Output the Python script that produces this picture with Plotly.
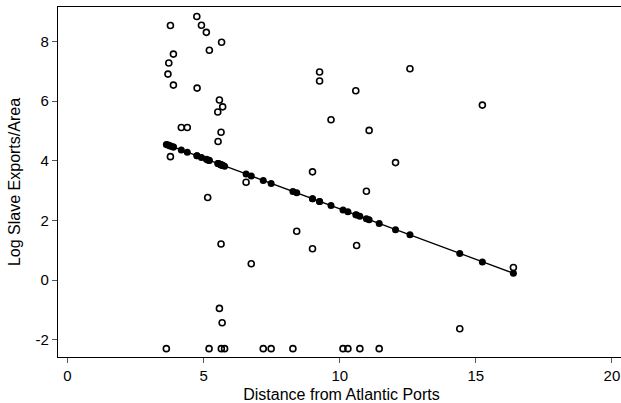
import plotly.graph_objects as go

# Observations (distance, log slave exports / area)
distance = [3.63, 3.69, 3.72, 3.78, 3.78, 3.89, 3.89, 4.18, 4.40, 4.75,
            4.76, 4.92, 5.10, 5.15, 5.20, 5.21, 5.52, 5.53, 5.58, 5.58,
            5.64, 5.64, 5.65, 5.66, 5.68, 5.70, 5.77, 6.56, 6.75, 7.19,
            7.48, 8.28, 8.42, 9.00, 9.00, 9.26, 9.26, 9.68, 10.12, 10.30,
            10.59, 10.62, 10.74, 10.98, 11.08, 11.45, 12.05, 12.58, 14.41, 15.24,
            16.38]
log_exports = [-2.3, 6.91, 7.28, 8.54, 4.14, 7.58, 6.54, 5.12, 5.12, 8.84,
               6.44, 8.55, 8.31, 2.77, -2.3, 7.71, 5.64, 4.65, 6.04, -0.95,
               4.96, 1.21, -2.3, 7.98, -1.43, 5.81, -2.3, 3.28, 0.55, -2.3,
               -2.3, -2.3, 1.64, 3.63, 1.05, 6.98, 6.68, 5.38, -2.3, -2.3,
               6.35, 1.16, -2.3, 2.98, 5.02, -2.3, 3.94, 7.09, -1.63, 5.87,
               0.42]
# Fitted values at each observation
fitted = [4.55, 4.53, 4.52, 4.50, 4.50, 4.46, 4.46, 4.36, 4.29, 4.17,
          4.17, 4.11, 4.05, 4.03, 4.02, 4.01, 3.91, 3.91, 3.89, 3.89,
          3.87, 3.87, 3.86, 3.86, 3.85, 3.85, 3.82, 3.56, 3.49, 3.34,
          3.24, 2.97, 2.93, 2.73, 2.73, 2.64, 2.64, 2.50, 2.35, 2.29,
          2.19, 2.18, 2.14, 2.06, 2.02, 1.90, 1.69, 1.52, 0.89, 0.61,
          0.23]

x_ticks = [0, 5, 10, 15, 20]
y_ticks = [-2, 0, 2, 4, 6, 8]

fig = go.Figure()
fig.add_trace(go.Scatter(
    x=distance, y=log_exports, mode="markers",
    marker=dict(symbol="circle-open", size=6, color="black", line=dict(width=1.6, color="black")),
    showlegend=False, hoverinfo="skip"))
fig.add_trace(go.Scatter(
    x=distance, y=fitted, mode="lines+markers",
    line=dict(color="black", width=1.3),
    marker=dict(symbol="circle", size=7, color="black"),
    showlegend=False, hoverinfo="skip"))

font = "Liberation Sans, Arial, sans-serif"
# The plot area runs past the right edge of the window, as in the reference
fig.update_layout(
    width=625, height=403,
    margin=dict(l=58, r=0, t=7, b=46),
    paper_bgcolor="white", plot_bgcolor="white",
    font=dict(family=font, color="black", size=14),
    xaxis=dict(
        range=[-0.35, 20.48], tickvals=x_ticks, ticktext=[str(v) for v in x_ticks],
        showgrid=False, zeroline=False, showline=True, linecolor="black", linewidth=1.3,
        mirror=True, ticks="outside", ticklen=5, tickcolor="#555", tickwidth=1,
        tickfont=dict(size=15),
        title=dict(text="Distance from Atlantic Ports", font=dict(size=16), standoff=6),
    ),
    yaxis=dict(
        range=[-2.58, 9.16], tickvals=y_ticks, ticktext=[str(v) for v in y_ticks],
        showgrid=False, zeroline=False, showline=True, linecolor="black", linewidth=1.3,
        mirror=False, ticks="outside", ticklen=5, tickcolor="#555", tickwidth=1,
        tickfont=dict(size=15),
        title=dict(text="Log Slave Exports/Area", font=dict(size=16), standoff=10),
    ),
)

fig.write_html(
    "out.html",
    config={"displayModeBar": False},
    post_script="document.body.style.margin='0';document.body.style.overflow='hidden';",
)
